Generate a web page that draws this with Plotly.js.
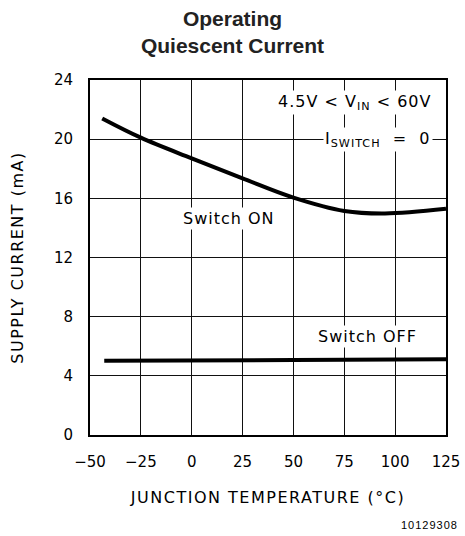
<!DOCTYPE html>
<html>
<head>
<meta charset="utf-8">
<script src="https://cdn.plot.ly/plotly-3.0.1.min.js"></script>
<style>
html, body { margin:0; padding:0; background:#fff; }
#chart { width:465px; height:536px; }
.xtitle, .ytitle { letter-spacing: 1.5px; }
.annotation-text { letter-spacing: 1px; }
</style>
</head>
<body>
<div id="chart"></div>
<script>
// Data
const tempOn = [-44, -25, 0, 25, 50, 75, 95, 125];
const currentOn = [21.4, 20.1, 18.7, 17.35, 16.05, 15.15, 14.98, 15.3];
const tempOff = [-43, 50, 125];
const currentOff = [5.02, 5.07, 5.12];
const xTicks = [-50, -25, 0, 25, 50, 75, 100, 125];
const yTicks = [0, 4, 8, 12, 16, 20, 24];

const fmt = v => (v < 0 ? '\u2212' + Math.abs(v) : String(v));

const lineStyle = {color: '#000', width: 4, shape: 'spline'};
const traces = [
  {x: tempOn, y: currentOn, mode: 'lines', line: lineStyle, hoverinfo: 'skip'},
  {x: tempOff, y: currentOff, mode: 'lines', line: lineStyle, hoverinfo: 'skip'}
];

const tickFont = {family: 'DejaVu Sans', size: 15, color: '#000'};
const annFont = {family: 'DejaVu Sans', size: 16, color: '#000'};

const layout = {
  width: 465, height: 536,
  margin: {l: 90, r: 19, t: 80, b: 101},
  paper_bgcolor: '#fff', plot_bgcolor: '#fff',
  showlegend: false,
  title: {
    text: '<b>Operating<br>Quiescent Current</b>',
    font: {family: 'Liberation Sans', size: 21, color: '#222'},
    x: 0.5, xref: 'container', xanchor: 'center',
    y: 1 - 26/536, yref: 'container', yanchor: 'middle'
  },
  xaxis: {
    range: [-50, 125], tickvals: xTicks, ticktext: xTicks.map(fmt),
    showgrid: true, gridcolor: '#111', gridwidth: 1,
    showline: true, mirror: true, linecolor: '#000', linewidth: 2,
    zeroline: false, ticks: '', tickfont: tickFont, ticklabelstandoff: 12,
    fixedrange: true,
    title: {text: 'JUNCTION TEMPERATURE (°C)', font: {family: 'DejaVu Sans', size: 16, color: '#000'}, standoff: 22}
  },
  yaxis: {
    range: [0, 24], tickvals: yTicks, ticktext: yTicks.map(fmt),
    showgrid: true, gridcolor: '#111', gridwidth: 1,
    showline: true, mirror: true, linecolor: '#000', linewidth: 2,
    zeroline: false, ticks: '', tickfont: tickFont, ticklabelstandoff: 12,
    fixedrange: true,
    title: {text: 'SUPPLY CURRENT (mA)', font: {family: 'DejaVu Sans', size: 16, color: '#000'}, standoff: 26}
  },
  annotations: [
    {x: 118.6, y: 22.5, xref: 'x', yref: 'y', xanchor: 'right', yanchor: 'middle',
     text: '4.5V &lt; V<sub>IN</sub> &lt; 60V', showarrow: false, font: annFont, bgcolor: '#fff', borderpad: 1},
    {x: 118.6, y: 20.0, xref: 'x', yref: 'y', xanchor: 'right', yanchor: 'middle',
     text: 'I<sub>SWITCH</sub>  =  0', showarrow: false, font: annFont, bgcolor: '#fff', borderpad: 1},
    {x: 18.3, y: 14.67, xref: 'x', yref: 'y', xanchor: 'center', yanchor: 'middle',
     text: 'Switch ON', showarrow: false, font: annFont, bgcolor: '#fff', borderpad: 1},
    {x: 86.2, y: 6.69, xref: 'x', yref: 'y', xanchor: 'center', yanchor: 'middle',
     text: 'Switch OFF', showarrow: false, font: annFont, bgcolor: '#fff', borderpad: 1},
    {x: (460 - 90) / 356, y: (435 - 525) / 355, xref: 'paper', yref: 'paper', showarrow: false, text: '10129308',
     font: {family: 'Liberation Sans', size: 11, color: '#000'}, xanchor: 'right', yanchor: 'middle'}
  ]
};

Plotly.newPlot('chart', traces, layout, {displayModeBar: false, staticPlot: true});
</script>
</body>
</html>
